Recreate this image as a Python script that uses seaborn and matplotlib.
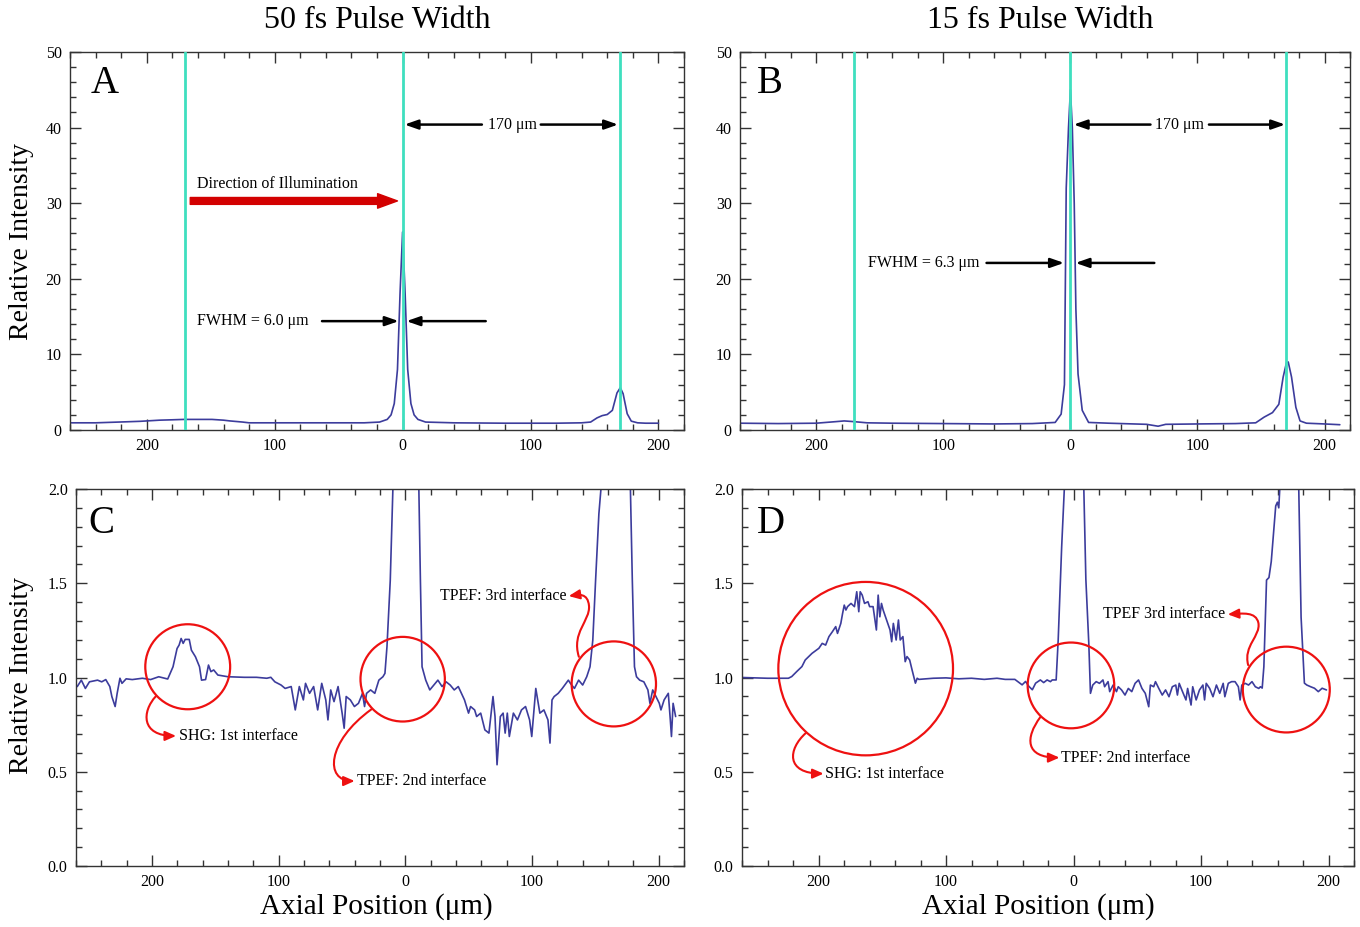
import numpy as np
import pandas as pd
import matplotlib
matplotlib.use("Agg")
import matplotlib.pyplot as plt
import seaborn as sns
from matplotlib.patches import Ellipse, FancyArrowPatch
from matplotlib.path import Path
from matplotlib.ticker import MultipleLocator, FuncFormatter

# ---------------- data ----------------
a_x = [-260, -240, -222, -205, -190, -180, -171, -160, -149, -140, -135, -125, -120, -100, -60, -30,
       -18, -12, -9, -6.5, -4, -2, 0, 2, 4, 6.5, 9, 12, 18, 40, 80, 120, 140, 147, 152, 156, 160, 164,
       167.6, 170.2, 172.4, 175.6, 178.8, 183.7, 190, 200]
a_y = [0.95, 0.95, 1.05, 1.15, 1.3, 1.35, 1.4, 1.4, 1.4, 1.3, 1.2, 1.05, 0.95, 0.95, 0.95, 0.95,
       1.05, 1.4, 2.0, 3.5, 8.0, 18.0, 26.2, 18.0, 8.0, 3.5, 2.0, 1.4, 1.05, 0.95, 0.9, 0.9, 0.95, 1.05,
       1.6, 1.9, 2.05, 2.6, 4.9, 5.6, 4.8, 2.15, 1.17, 0.95, 0.9, 0.9]

b_x = [-260, -230, -200, -185, -178, -170, -160, -140, -100, -60, -30, -12, -7.3, -4.7, -3.3, -1.5, 0,
       1.5, 3, 4.3, 6, 9.3, 14.3, 30, 60, 69, 75, 100, 130, 145.8, 152.4, 159, 164, 167.4, 170, 171.4,
       174, 177.4, 180.7, 185.7, 200, 212]
b_y = [0.9, 0.85, 0.9, 1.1, 1.2, 1.1, 0.95, 0.9, 0.85, 0.8, 0.85, 1.0, 2.1, 6.0, 32, 40, 45,
       40, 30, 16, 7.4, 2.6, 1.0, 0.9, 0.75, 0.5, 0.75, 0.8, 0.85, 0.95, 1.7, 2.3, 3.4, 7.0, 8.9, 9.0,
       7.0, 3.0, 1.2, 0.9, 0.8, 0.7]

c_x = [-259.0, -255.8, -252.6, -249.4, -243.0, -239.7, -236.5, -233.3, -231.7, -229.1, -227.5, -225.3,
       -223.7, -220.4, -215.6, -207.6, -201.1, -194.7, -187.6, -183.4, -180.2, -178.6, -177.0, -175.4,
       -173.8, -170.6, -168.9, -165.7, -162.5, -160.9, -157.7, -155.4, -153.5, -151.3, -148.0, -140.0,
       -127.1, -117.5, -109.4, -106.2, -103.0, -98.1, -94.9, -90.1, -86.9, -83.7, -80.5, -78.8, -75.6,
       -72.4, -69.2, -66.0, -62.8, -61.1, -58.9, -56.3, -53.1, -49.9, -48.3, -46.7, -43.4, -40.2, -37.0,
       -33.8, -32.2, -30.6, -27.4, -24.1, -20.9, -17.7, -16.1, -14.5, -11.9, -9.7, -5.0, 0.0, 5.0,
       10.6, 11.9, 13.2, 16.1, 19.3, 22.5, 25.7, 29.0, 32.2, 35.4, 38.6, 41.8, 46.7, 49.9, 51.5, 54.7,
       56.3, 59.5, 62.8, 66.0, 69.2, 70.8, 72.4, 75.0, 77.2, 78.8, 80.5, 82.1, 85.3, 88.5, 91.7, 94.9,
       98.1, 99.8, 103.0, 106.2, 109.4, 112.6, 114.2, 115.8, 117.5, 120.7, 123.9, 128.7, 130.3, 133.5,
       136.8, 140.0, 143.2, 145.8, 148.0, 150.2, 152.8, 154.8, 165.0, 177.6, 179.2, 180.9, 182.5, 185.0,
       188.3, 191.5, 193.1, 195.3, 197.9, 200.5, 201.8, 204.3, 207.6, 209.2, 210.1, 211.4, 213.4]
c_y = [0.952, 0.986, 0.942, 0.977, 0.986, 0.977, 0.989, 0.952, 0.899, 0.846, 0.916, 0.996,
       0.969, 0.993, 0.989, 0.996, 0.989, 1.004, 0.992, 1.057, 1.154, 1.172, 1.207, 1.181,
       1.202, 1.202, 1.145, 1.110, 1.057, 0.986, 0.989, 1.066, 1.031, 1.040, 1.013, 1.004,
       1.001, 1.001, 0.996, 1.001, 0.977, 0.960, 0.942, 0.952, 0.828, 0.952, 0.881, 0.969, 0.916,
       0.952, 0.828, 0.969, 0.881, 0.775, 0.934, 0.872, 0.952, 0.811, 0.731, 0.899, 0.881, 0.846, 0.863,
       0.916, 0.846, 0.916, 0.934, 0.916, 0.986, 1.004, 1.022, 1.163, 1.515, 2.03, 8.0, 26.0, 8.0,
       2.03, 1.515, 1.057, 0.986, 0.934, 0.960, 0.986, 0.952, 0.977, 0.960, 0.934, 0.952, 0.881, 0.811,
       0.846, 0.828, 0.793, 0.811, 0.722, 0.705, 0.899, 0.793, 0.537, 0.793, 0.811, 0.705, 0.811,
       0.687, 0.811, 0.775, 0.828, 0.846, 0.775, 0.687, 0.942, 0.811, 0.828, 0.775, 0.652, 0.881,
       0.899, 0.916, 0.942, 0.986, 0.969, 0.942, 0.986, 0.960, 1.004, 1.057, 1.198, 1.515, 1.868,
       2.03, 5.7, 2.03, 1.515, 1.057, 1.004, 0.986, 0.977, 0.934, 0.863, 0.934, 0.899, 0.863, 0.828,
       0.881, 0.916, 0.775, 0.687, 0.863, 0.793]

d_x = [-260, -240, -223.6, -221.0, -217.0, -213.0, -210.4, -205.1, -199.7, -197.1, -194.4, -191.8,
       -189.1, -186.5, -185.1, -182.5, -181.1, -179.8, -178.5, -177.2, -174.5, -171.8, -170.0, -168.4,
       -167.3, -165.7, -163.9, -161.2, -159.9, -157.2, -154.6, -153.2, -151.9, -150.6, -149.3, -146.6,
       -143.9, -142.6, -141.3, -139.1, -137.3, -135.9, -133.8, -132.0, -130.6, -128.5, -126.6, -124.0,
       -122.6, -121.3, -110, -100, -90, -80, -70, -60, -53.6, -46, -40.3, -37.6, -35, -32.3, -29.7,
       -26.0, -23.4, -20.7, -18.1, -16.7, -13.6, -12, -9.3, -7, 0, 8.0, 9.7, 12, 13.3, 15.1, 17.8,
       20.4, 23.1, 24.4, 27.1, 28.4, 31.1, 33.7, 35.1, 37.7, 40.4, 43.0, 45.7, 48.3, 51.0, 53.7, 56.3,
       59.0, 60.3, 62.9, 64.3, 66.9, 69.6, 72.2, 74.9, 77.5, 80.2, 81.5, 82.9, 85.5, 88.2, 89.5, 92.2,
       93.5, 96.2, 98.8, 101.5, 102.8, 104.1, 106.8, 109.4, 112.1, 114.7, 117.4, 118.7, 121.4, 124.0,
       126.7, 129.3, 130.7, 132.0, 134.7, 137.3, 140.0, 142.6, 145.3, 146.6, 148, 149.3, 151.4, 153.3,
       155.1, 157.2, 158.6, 159.9, 161.0, 162, 170, 176.6, 178.5, 181.1, 183, 186, 189, 192, 195, 198.4]
d_y = [1.0, 0.996, 0.996, 1.005, 1.032, 1.058, 1.093, 1.128, 1.155, 1.181, 1.172, 1.217,
       1.243, 1.270, 1.234, 1.287, 1.340, 1.384, 1.358, 1.376, 1.393, 1.376, 1.455, 1.349,
       1.455, 1.437, 1.393, 1.402, 1.376, 1.376, 1.252, 1.437, 1.322, 1.393, 1.358, 1.305,
       1.252, 1.190, 1.287, 1.199, 1.305, 1.199, 1.217, 1.084, 1.111, 1.093, 1.040, 0.970,
       0.996, 0.990, 0.996, 0.998, 0.993, 0.996, 0.990, 0.996, 0.990, 0.990, 0.961, 0.979, 0.953, 0.935,
       0.970, 0.987, 0.973, 0.987, 0.978, 0.987, 0.987, 1.2, 1.69, 2.03, 12.0, 2.03, 1.52, 1.18, 0.916,
       0.960, 0.978, 0.969, 0.987, 0.951, 0.978, 0.925, 0.960, 0.925, 0.951, 0.934, 0.907, 0.942,
       0.925, 0.969, 0.987, 0.942, 0.916, 0.845, 0.960, 0.951, 0.978, 0.942, 0.907, 0.934, 0.898,
       0.951, 0.960, 0.907, 0.969, 0.925, 0.881, 0.942, 0.854, 0.951, 0.881, 0.934, 0.960, 0.881,
       0.969, 0.942, 0.898, 0.960, 0.916, 0.969, 0.898, 0.969, 0.978, 0.978, 0.951, 0.881, 0.960,
       0.969, 0.960, 0.978, 0.951, 0.942, 0.951, 0.944, 1.057, 1.517, 1.53, 1.615, 1.79, 1.91, 1.93,
       1.90, 2.03, 9.0, 2.03, 1.32, 0.97, 0.96, 0.951, 0.943, 0.925, 0.943, 0.934]

interfaces = [-170, 0, 170]
titles = ["50 fs Pulse Width", "15 fs Pulse Width"]
letters = ["A", "B", "C", "D"]
fwhm_labels = ["FWHM = 6.0 \u03bcm", "FWHM = 6.3 \u03bcm"]
spacing_label = "170 \u03bcm"
ylabel = "Relative Intensity"
xlabel = "Axial Position (\u03bcm)"

# ---------------- style ----------------
sns.set_theme(style="ticks")
plt.rcParams['font.family'] = ['Liberation Serif', 'DejaVu Serif']
plt.rcParams['axes.linewidth'] = 1.0
for k in ['text.color', 'axes.labelcolor', 'xtick.color', 'ytick.color']:
    plt.rcParams[k] = 'black'

LINE = "#3c3c9c"
CYAN = "#3fdfbf"
RED = "#ee1111"

fig = plt.figure(figsize=(13.6, 9.27), dpi=100)
W, H = 1360, 927


def axes_px(l, r, t, b):
    return fig.add_axes([l / W, 1 - b / H, (r - l) / W, (b - t) / H])


axA = axes_px(70, 684, 52, 430)
axB = axes_px(740, 1350, 52, 430)
axC = axes_px(76, 684, 489, 866)
axD = axes_px(742, 1354, 489, 866)

absfmt = FuncFormatter(lambda v, p: f"{abs(int(round(v)))}")


def style(ax, top):
    ax.set_xlim(-260, 220)
    if top:
        ax.set_ylim(0, 50)
        ax.yaxis.set_major_locator(MultipleLocator(10))
        ax.yaxis.set_minor_locator(MultipleLocator(2))
    else:
        ax.set_ylim(0, 2.0)
        ax.yaxis.set_major_locator(MultipleLocator(0.5))
        ax.yaxis.set_minor_locator(MultipleLocator(0.1))
        ax.yaxis.set_major_formatter(FuncFormatter(lambda v, p: f"{v:.1f}"))
    ax.xaxis.set_major_locator(MultipleLocator(100))
    ax.xaxis.set_minor_locator(MultipleLocator(20))
    ax.xaxis.set_major_formatter(absfmt)
    ax.tick_params(which='both', direction='in', top=True, right=True, labelsize=11.5,
                   color='#333333', width=1.0)
    ax.tick_params(which='major', length=8, pad=6)
    ax.tick_params(which='minor', length=4)
    for s in ax.spines.values():
        s.set_visible(True)
        s.set_color('#333333')
    ax.set_xlabel("")
    ax.set_ylabel("")


panels = [(axA, a_x, a_y, True), (axB, b_x, b_y, True), (axC, c_x, c_y, False), (axD, d_x, d_y, False)]
for ax, xs, ys, top in panels:
    df = pd.DataFrame({"pos": xs, "val": ys})
    sns.lineplot(data=df, x="pos", y="val", ax=ax, color=LINE, lw=1.2, estimator=None, sort=False)
    style(ax, top)

for ax in (axA, axB):
    for xv in interfaces:
        ax.axvline(xv, color=CYAN, lw=2, zorder=4)

# panel letters
for ax, lt, (fx, fy) in zip([axA, axB, axC, axD], letters,
                            [(0.034, 0.892), (0.028, 0.892), (0.021, 0.883), (0.024, 0.883)]):
    ax.text(fx, fy, lt, transform=ax.transAxes, fontsize=28, ha='left', va='baseline')

# titles and axis labels
fig.text(377 / W, 1 - 21 / H, titles[0], ha='center', va='center', fontsize=23)
fig.text(1040 / W, 1 - 21 / H, titles[1], ha='center', va='center', fontsize=23)
fig.text(22 / W, 1 - 241 / H, ylabel, rotation=90, ha='center', va='center', fontsize=20)
fig.text(22 / W, 1 - 676 / H, ylabel, rotation=90, ha='center', va='center', fontsize=20)
fig.text(376 / W, 1 - 907 / H, xlabel, ha='center', va='center', fontsize=21)
fig.text(1038 / W, 1 - 907 / H, xlabel, ha='center', va='center', fontsize=21)


def black_arrow(ax, start, end):
    ax.annotate("", xy=end, xytext=start,
                arrowprops=dict(arrowstyle='-|>,head_length=0.8,head_width=0.28', lw=1.8,
                                color='black', shrinkA=0, shrinkB=0, mutation_scale=10), zorder=5)


# Panel A annotations
black_arrow(axA, (62, 40.4), (1.5, 40.4))
black_arrow(axA, (108, 40.4), (168.5, 40.4))
axA.text(86, 40.4, spacing_label, ha='center', va='center', fontsize=11.5)
axA.text(-161, 32.6, "Direction of Illumination", ha='left', va='center', fontsize=11.5)
axA.annotate("", xy=(-4, 30.3), xytext=(-166, 30.3),
             arrowprops=dict(arrowstyle='simple,head_length=1.3,head_width=0.95,tail_width=0.45',
                             color='#d30000', shrinkA=0, shrinkB=0, mutation_scale=11))
axA.text(-161, 14.4, fwhm_labels[0], ha='left', va='center', fontsize=11.5)
black_arrow(axA, (-63, 14.4), (-3.0, 14.4))
black_arrow(axA, (65, 14.4), (3.0, 14.4))

# Panel B annotations
black_arrow(axB, (63, 40.4), (2.5, 40.4))
black_arrow(axB, (109, 40.4), (169, 40.4))
axB.text(86, 40.4, spacing_label, ha='center', va='center', fontsize=11.5)
axB.text(-159, 22.1, fwhm_labels[1], ha='left', va='center', fontsize=11.5)
black_arrow(axB, (-66, 22.1), (-5.0, 22.1))
black_arrow(axB, (66, 22.1), (4.0, 22.1))


def red_circle(ax, cx, cy, w, h):
    ax.add_patch(Ellipse((cx, cy), w, h, fill=False, edgecolor=RED, lw=1.6, zorder=5))


def red_path(ax, verts):
    codes = [Path.MOVETO] + [Path.CURVE4] * (len(verts) - 1)
    p = FancyArrowPatch(path=Path(verts, codes), arrowstyle='-|>,head_length=0.5,head_width=0.22',
                        mutation_scale=13, color=RED, lw=1.5, zorder=5)
    ax.add_patch(p)


# Panel C annotations
red_circle(axC, -171.8, 1.057, 67, 0.451)
red_circle(axC, -2.1, 0.991, 66.6, 0.449)
red_circle(axC, 164.6, 0.966, 66.6, 0.451)
axC.text(-179, 0.69, "SHG: 1st interface", ha='left', va='center', fontsize=11.5)
axC.text(-38, 0.451, "TPEF: 2nd interface", ha='left', va='center', fontsize=11.5)
axC.text(127, 1.432, "TPEF: 3rd interface", ha='right', va='center', fontsize=11.5)
red_path(axC, [(-197, 0.90), (-208, 0.82), (-209, 0.69), (-181, 0.69)])
red_path(axC, [(-27, 0.83), (-62, 0.66), (-64, 0.45), (-40, 0.451)])
red_path(axC, [(137, 1.11), (131, 1.24), (146, 1.30), (145, 1.38),
               (144, 1.45), (137, 1.44), (129, 1.432)])

# Panel D annotations
red_circle(axD, -163, 1.047, 137, 0.92)
red_circle(axD, -2, 0.958, 67.9, 0.455)
red_circle(axD, 166.9, 0.936, 68.2, 0.455)
axD.text(-195, 0.49, "SHG: 1st interface", ha='left', va='center', fontsize=11.5)
axD.text(-10, 0.575, "TPEF: 2nd interface", ha='left', va='center', fontsize=11.5)
axD.text(119, 1.335, "TPEF 3rd interface", ha='right', va='center', fontsize=11.5)
red_path(axD, [(-210, 0.705), (-224, 0.62), (-226, 0.49), (-196, 0.49)])
red_path(axD, [(-26, 0.79), (-38, 0.68), (-38, 0.575), (-11, 0.575)])
red_path(axD, [(137, 1.066), (133, 1.17), (147, 1.22), (145, 1.29),
               (143, 1.35), (133, 1.34), (121, 1.335)])

fig.savefig("out.png", dpi=100)
